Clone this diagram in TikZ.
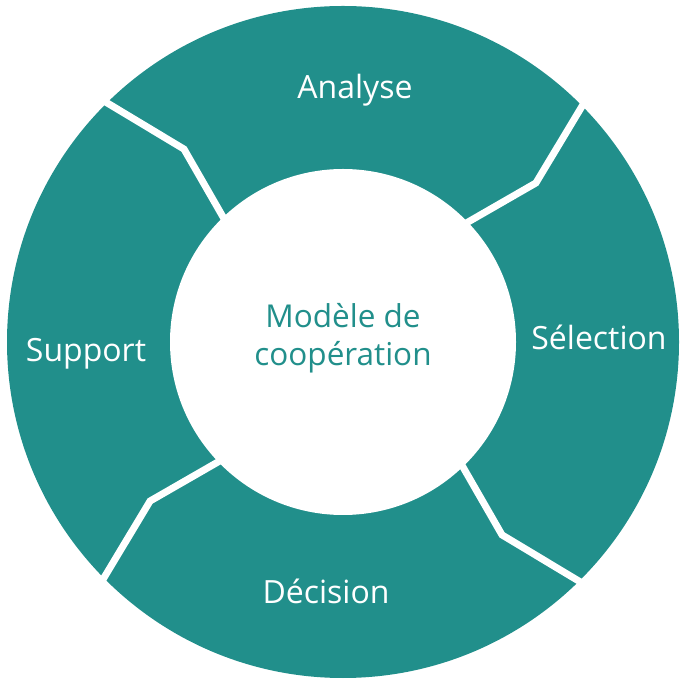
\documentclass[tikz,border=0pt]{standalone}
\usepackage{fontspec}
\setmainfont{Open Sans}
\usetikzlibrary{calc}
\definecolor{teal1}{HTML}{218F8B}
\begin{document}
\begin{tikzpicture}[x=1pt,y=1pt,
  sep/.style={white,line width=7pt,line join=miter},
  lab/.style={text=white,font=\fontsize{32}{36}\selectfont,inner sep=0pt},
  ctr/.style={text=teal1,font=\fontsize{31.5}{38}\selectfont,align=center,inner sep=0pt}]
\useasboundingbox (0,0) rectangle (690,685);
\coordinate (c) at (343,343);
\fill[teal1] (c) circle (336);
\fill[white] (c) circle (173);
\foreach \a in {45,135,225,315}{
  \draw[sep] ($(c)+(\a:160)$) -- ($(c)+(\a-5.5:250)$) -- ($(c)+(\a:345)$);
}
\node[lab] (analyse) at (355,595) {Analyse};
\node[lab] (selection) at (599,348) {Sélection};
\node[lab] (decision) at (326,94) {Décision};
\node[lab] (support) at (86,331) {Support};
\node[ctr] (modele) at (343,347) {Modèle de\\coopération};
\end{tikzpicture}
\end{document}
